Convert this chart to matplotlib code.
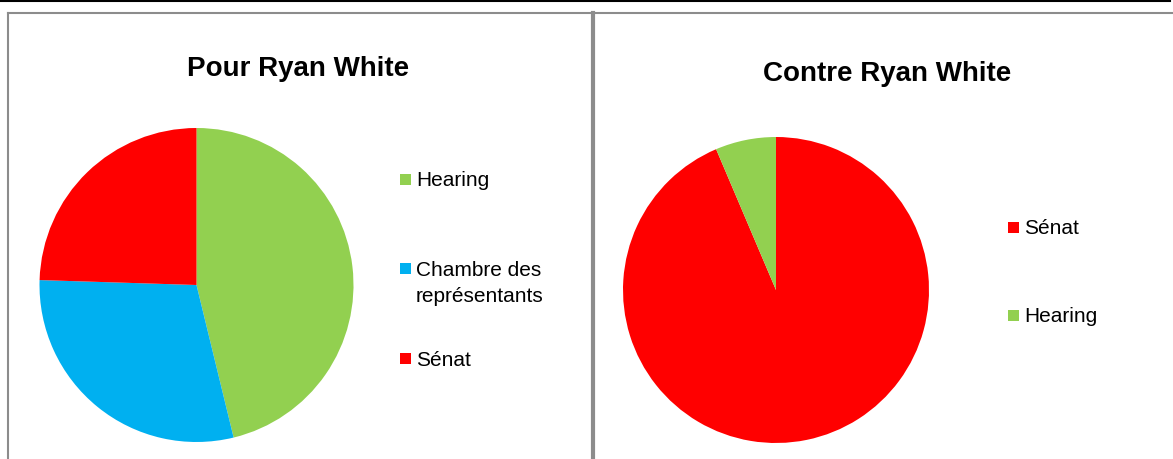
import matplotlib.pyplot as plt
from matplotlib.lines import Line2D
from matplotlib.patches import Rectangle

plt.rcParams['font.family'] = ['Liberation Sans', 'DejaVu Sans']

W, H = 1173, 459

# data (share in %)
pour_labels = ['Hearing', 'Chambre des\nreprésentants', 'Sénat']
pour_values = [46.2, 29.3, 24.5]
pour_colors = ['#92D050', '#00B0F0', '#FF0000']

contre_labels = ['Sénat', 'Hearing']
contre_values = [93.6, 6.4]
contre_colors = ['#FF0000', '#92D050']


def px_box(cx, cy, r):
    # axes rectangle in figure fraction from pixel centre / radius
    return [(cx - r) / W, 1 - (cy + r) / H, 2 * r / W, 2 * r / H]


def fx(x):
    return x / W


def fy(y):
    return 1 - y / H


def legend_entry(x, yc, label, color, fs=15, sq=11, step=27):
    fig.add_artist(Rectangle((fx(x), fy(yc + sq / 2)), sq / W, sq / H,
                             transform=fig.transFigure, color=color, lw=0))
    for i, line in enumerate(label.split('\n')):
        fig.text(fx(x + 16), fy(yc + i * step), line, ha='left',
                 va='center_baseline', fontsize=fs)


fig = plt.figure(figsize=(W / 100, H / 100), dpi=100)

ax1 = fig.add_axes(px_box(196.5, 285, 157))
ax1.pie(pour_values, colors=pour_colors, startangle=90, counterclock=False,
        radius=1, wedgeprops={'linewidth': 0})
ax1.set_xlim(-1, 1)
ax1.set_ylim(-1, 1)
ax1.set_aspect('equal')
ax1.axis('off')

ax2 = fig.add_axes(px_box(776, 290, 153))
ax2.pie(contre_values, colors=contre_colors, startangle=90, counterclock=False,
        radius=1, wedgeprops={'linewidth': 0})
ax2.set_xlim(-1, 1)
ax2.set_ylim(-1, 1)
ax2.set_aspect('equal')
ax2.axis('off')

# titles
fig.text(fx(298), fy(76), 'Pour Ryan White', ha='center', va='baseline',
         fontsize=20, fontweight='bold')
fig.text(fx(887), fy(81), 'Contre Ryan White', ha='center', va='baseline',
         fontsize=20, fontweight='bold')

# legends
for label, color, yc in zip(pour_labels, pour_colors, [179, 268, 358]):
    legend_entry(400, yc, label, color)

for label, color, yc in zip(contre_labels, contre_colors, [227, 315]):
    legend_entry(1008, yc, label, color)

# frame lines
gray = '#8C8C8C'
fig.add_artist(Line2D([0, fx(1170)], [fy(0.5), fy(0.5)], color='black',
                      lw=1.5, transform=fig.transFigure))
fig.add_artist(Line2D([fx(8), 1], [fy(12.5), fy(12.5)], color=gray,
                      lw=1.5, transform=fig.transFigure))
fig.add_artist(Line2D([fx(8), fx(8)], [fy(12.5), 0], color=gray,
                      lw=1.5, transform=fig.transFigure))
fig.add_artist(Line2D([fx(593), fx(593)], [fy(12.5), 0], color=gray,
                      lw=3, transform=fig.transFigure))

fig.savefig('out.png', dpi=100, facecolor='white')
